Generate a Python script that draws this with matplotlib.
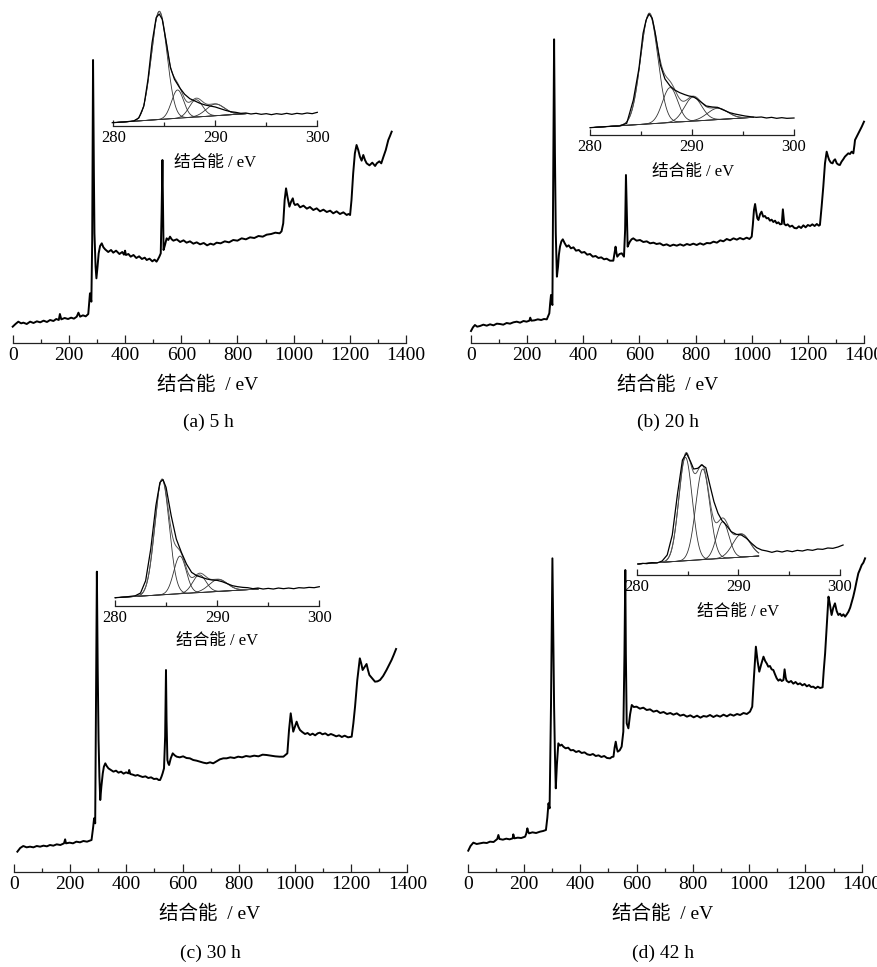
import numpy as np
import matplotlib
matplotlib.use("Agg")
import matplotlib.pyplot as plt
from matplotlib.ticker import MultipleLocator

plt.rcParams['font.family'] = ['Liberation Serif', 'Noto Sans CJK SC']

# ---------------- survey spectra: (binding energy eV, intensity a.u.) ----------------
survey_a = [(0,40),(10,48),(20,55),(30,50),(38,52),(50,48),(62,55),(74,51),(86,56),(98,53),(110,58),(122,54),
            (133,60),(145,57),(155,63),(164,60),(168,78),(173,62),(185,66),(197,63),(208,67),(218,64),(228,70),
            (234,82),(240,70),(250,74),(260,71),(269,78),(272,110),(275,140),(280,115),(283,300),(286,840),
            (289,500),(291,320),(295,220),(298,185),(302,220),(306,260),(311,282),(317,290),(323,278),(329,272),
            (340,264),(350,270),(358,262),(368,268),(380,258),(390,264),(396,256),(400,268),(403,255),(412,258),
            (420,250),(430,255),(440,246),(450,251),(460,243),(470,247),(477,240),(487,244),(497,236),(505,241),
            (512,235),(517,242),(522,250),(527,260),(530,380),(533,540),(535,400),(537,270),(542,285),(548,305),
            (554,300),(560,310),(566,302),(572,298),(584,302),(596,294),(608,299),(619,292),(631,296),(643,289),
            (655,293),(667,287),(680,291),(692,284),(704,289),(715,286),(726,292),(740,290),(755,296),(770,293),
            (785,300),(800,298),(815,305),(830,302),(845,308),(860,306),(875,312),(890,310),(904,316),(920,318),
            (935,322),(950,320),(957,326),(963,350),(968,420),(973,455),(978,430),(985,400),(991,415),(997,425),
            (1001,410),(1005,405),(1014,408),(1023,398),(1035,403),(1047,394),(1058,399),(1070,390),(1082,395),
            (1094,386),(1106,391),(1118,384),(1130,388),(1141,380),(1153,386),(1165,378),(1177,383),(1189,375),
            (1195,378),(1201,375),(1206,420),(1212,500),(1218,560),(1224,585),(1230,570),(1236,550),(1242,538),
            (1248,555),(1254,540),(1260,530),(1270,524),(1280,532),(1290,522),(1296,530),(1305,536),(1312,530),
            (1319,548),(1328,570),(1337,600),(1343,612),(1349,625)]

survey_b = [(0,27),(7,38),(14,45),(22,40),(32,42),(44,46),(56,43),(68,47),(80,44),(92,49),(103,48),(115,46),
            (127,51),(139,49),(151,53),(163,55),(175,52),(187,57),(198,55),(208,58),(211,67),(215,58),(226,59),
            (238,62),(250,60),(260,63),(270,62),(279,80),(282,110),(285,135),(288,112),(290,105),(293,500),
            (296,902),(299,560),(302,320),(306,190),(310,220),(313,255),(317,280),(322,296),(327,302),(334,290),
            (341,280),(348,284),(356,275),(365,278),(374,268),(384,270),(394,262),(404,264),(414,256),(424,258),
            (434,250),(444,252),(454,246),(464,248),(474,242),(483,244),(495,238),(507,238),(511,260),(515,280),
            (518,262),(521,250),(529,258),(537,260),(541,255),(545,250),(549,330),(552,495),(555,380),(558,280),
            (562,288),(566,295),(572,302),(578,305),(590,298),(602,300),(614,294),(626,296),(638,290),(650,292),
            (661,288),(673,290),(685,284),(697,287),(709,282),(721,286),(733,283),(745,287),(757,283),(769,288),
            (780,285),(792,289),(804,285),(816,290),(828,286),(840,291),(852,290),(864,295),(876,292),(888,299),
            (899,296),(911,303),(923,299),(935,305),(947,301),(958,306),(970,302),(982,307),(992,303),(1000,310),
            (1004,345),(1008,390),(1012,408),(1016,385),(1020,365),(1024,360),(1030,378),(1035,385),(1041,370),
            (1047,372),(1053,365),(1059,366),(1065,358),(1071,361),(1077,354),(1083,358),(1089,350),(1095,353),
            (1101,347),(1107,348),(1111,392),(1116,348),(1122,344),(1128,347),(1136,340),(1144,343),(1152,336),
            (1160,335),(1168,341),(1176,336),(1184,344),(1192,338),(1200,345),(1208,342),(1216,347),(1224,342),
            (1232,348),(1239,343),(1243,345),(1249,400),(1255,460),(1261,530),(1267,565),(1272,550),(1276,540),
            (1282,532),(1288,530),(1292,538),(1297,542),(1303,530),(1309,526),(1314,525),(1320,535),(1326,542),
            (1332,550),(1338,555),(1344,560),(1350,558),(1356,565),(1362,560),(1366,585),(1368,600),(1374,610),
            (1380,620),(1386,630),(1392,640),(1400,655)]

survey_c = [(12,55),(22,66),(33,72),(45,68),(57,70),(69,68),(81,72),(93,70),(105,73),(117,71),(128,75),(140,73),
            (152,77),(165,75),(178,80),(182,92),(185,80),(198,82),(210,80),(222,85),(235,83),(247,87),(260,85),
            (270,88),(276,90),(279,110),(282,130),(285,155),(287,155),(289,140),(292,500),(295,895),(298,600),
            (301,390),(304,280),(307,210),(311,250),(316,290),(320,310),(325,320),(330,312),(336,305),(345,300),
            (354,295),(363,298),(372,292),(381,295),(390,289),(399,293),(407,290),(410,300),(414,288),(423,286),
            (432,283),(440,285),(448,282),(458,279),(468,281),(478,276),(488,278),(498,273),(508,274),(515,270),
            (520,270),(525,280),(529,290),(534,305),(538,400),(541,600),(543,450),(546,330),(549,320),(552,315),
            (558,335),(565,350),(572,344),(579,340),(590,338),(602,341),(614,336),(626,335),(638,330),(650,328),
            (662,325),(674,322),(686,320),(698,323),(709,320),(721,326),(733,332),(745,335),(757,335),(770,338),
            (784,336),(798,340),(812,338),(826,342),(840,340),(855,343),(870,341),(885,346),(899,345),(915,343),
            (930,341),(945,340),(959,340),(966,345),(973,350),(979,420),(985,470),(990,440),(994,415),(1000,430),
            (1006,445),(1012,430),(1018,420),(1026,414),(1036,408),(1045,411),(1054,405),(1063,409),(1072,404),
            (1081,410),(1089,412),(1098,407),(1108,410),(1118,404),(1128,408),(1137,405),(1147,401),(1157,404),
            (1167,399),(1177,403),(1189,398),(1202,400),(1208,440),(1214,490),(1222,570),(1231,635),(1236,620),
            (1241,600),(1245,605),(1249,610),(1255,618),(1260,600),(1265,585),(1275,575),(1285,565),(1294,566),
            (1303,570),(1314,582),(1326,600),(1335,615),(1344,630),(1352,646),(1360,663)]

survey_d = [(2,61),(10,75),(20,85),(32,81),(44,83),(56,85),(68,84),(79,88),(92,87),(105,96),(109,108),(113,96),
            (125,94),(137,97),(149,95),(160,98),(162,110),(166,98),(178,100),(190,99),(204,103),(208,112),
            (212,128),(215,118),(218,113),(230,116),(243,114),(257,118),(268,120),(278,123),(283,160),(287,203),
            (291,188),(296,500),(301,938),(304,700),(307,493),(310,350),(313,248),(317,320),(322,383),(328,376),
            (334,379),(340,373),(348,368),(357,370),(366,362),(375,363),(385,357),(395,360),(405,354),(415,356),
            (425,350),(435,348),(445,351),(455,345),(465,347),(475,342),(485,345),(495,339),(506,338),(512,342),
            (518,343),(522,370),(526,388),(530,368),(533,358),(540,362),(547,373),(550,395),(553,418),(557,650),
            (560,903),(562,650),(565,443),(568,435),(571,428),(577,470),(583,498),(590,492),(600,493),(612,487),
            (624,490),(636,483),(648,485),(660,478),(672,481),(684,474),(696,477),(708,471),(720,474),(731,469),
            (743,473),(755,466),(767,469),(779,463),(791,467),(803,461),(815,466),(827,460),(838,465),(849,463),
            (861,468),(873,462),(885,467),(897,463),(909,469),(921,464),(933,470),(945,466),(957,471),(968,468),
            (980,474),(992,471),(1003,478),(1011,493),(1017,580),(1024,673),(1030,630),(1036,598),(1043,620),
            (1051,643),(1057,630),(1063,622),(1068,613),(1074,615),(1080,605),(1086,603),(1092,590),(1098,578),
            (1104,571),(1110,575),(1116,570),(1122,573),(1126,605),(1130,580),(1133,571),(1141,566),(1149,570),
            (1157,562),(1165,567),(1173,560),(1181,563),(1189,557),(1197,561),(1205,554),(1213,558),(1220,552),
            (1228,553),(1236,548),(1244,553),(1252,549),(1261,551),(1265,600),(1270,653),(1276,740),(1282,823),
            (1287,800),(1293,768),(1299,790),(1305,803),(1311,780),(1317,768),(1323,772),(1329,765),(1335,770),
            (1341,763),(1347,770),(1353,778),(1359,790),(1364,805),(1370,823),(1376,845),(1382,870),(1388,893),
            (1394,905),(1400,918),(1406,925),(1412,938)]

# ---------------- C1s insets: measured curve (eV, a.u.) ----------------
c1s_a = [(279.9,10),(281.0,12),(282.0,15),(282.5,24),(283.0,60),(283.4,140),(283.8,250),(284.2,325),(284.5,336),
         (284.8,320),(285.2,250),(285.6,175),(286.0,140),(286.5,115),(287.0,95),(287.5,82),(288.0,75),(288.5,68),
         (289.0,63),(289.5,60),(290.0,57),(290.5,52),(291.0,47),(291.5,43),(292.0,41),(292.5,38),(293.0,39),
         (293.5,36),(294.0,38),(294.5,35),(295.0,37),(295.5,34),(296.0,37),(296.5,35),(297.0,38),(297.5,35),
         (298.0,38),(298.5,36),(299.0,39),(299.5,37),(300.0,41)]
c1s_b = [(280.0,22),(281.0,24),(282.0,26),(282.9,27),(283.6,35),(284.25,105),(284.8,200),(285.2,305),(285.5,345),
         (285.8,363),(286.1,350),(286.4,305),(286.9,210),(287.35,168),(287.85,147),(288.3,135),(288.8,127),
         (289.3,121),(289.7,117),(290.1,115),(290.5,108),(291.0,96),(291.4,87),(292.0,84),(292.5,83),(293.0,76),
         (293.7,67),(294.2,63),(294.7,60),(295.2,57),(295.7,55),(296.3,53),(296.8,54),(297.3,51),(297.8,53),
         (298.3,50),(298.8,52),(299.3,50),(300.0,51)]
c1s_c = [(280.0,24),(281.0,26),(282.0,30),(282.5,38),(283.0,75),(283.5,170),(284.0,300),(284.4,370),(284.7,378),
         (285.0,355),(285.5,270),(286.0,200),(286.5,160),(287.0,125),(287.5,100),(288.0,90),(288.5,85),(289.0,80),
         (289.5,77),(290.0,76),(290.5,72),(291.0,66),(291.5,60),(292.0,57),(292.5,55),(293.0,54),(293.5,51),
         (294.0,53),(294.5,50),(295.0,52),(295.5,50),(296.0,53),(296.5,51),(297.0,53),(297.5,51),(298.0,54),
         (298.5,53),(299.0,55),(299.5,54),(300.0,57)]
c1s_d = [(280.2,33),(280.6,35),(281.0,34),(281.5,37),(282.0,36),(282.5,42),(283.0,60),(283.5,120),(284.0,240),
         (284.5,345),(284.9,365),(285.3,340),(285.6,318),(286.0,320),(286.4,330),(286.8,322),(287.2,270),
         (287.6,220),(288.0,185),(288.4,163),(288.8,150),(289.3,130),(289.8,122),(290.3,120),(290.8,110),
         (291.3,95),(291.8,82),(292.3,75),(292.8,72),(293.3,68),(293.8,72),(294.3,69),(294.8,73),(295.3,70),
         (295.8,74),(296.3,72),(296.8,76),(297.3,74),(297.8,78),(298.3,77),(298.8,81),(299.3,80),(299.8,84),
         (300.3,90)]

# fitted background (start, end) and components (center eV, height a.u., FWHM eV)
bg_a = [(280.0, 10), (293.0, 37)]
peaks_a = {"center": [284.5, 286.3, 288.1, 290.0], "height": [324, 85, 52, 35], "fwhm": [1.8, 1.4, 1.55, 2.1]}
bg_b = [(280.0, 22), (296.0, 53)]
peaks_b = {"center": [285.8, 287.85, 290.1, 292.5], "height": [330, 105, 72, 34], "fwhm": [1.98, 1.75, 2.0, 2.35]}
bg_c = [(280.0, 24), (294.0, 50)]
peaks_c = {"center": [284.6, 286.36, 288.25, 290.1], "height": [346, 113, 53, 36], "fwhm": [1.66, 1.42, 1.53, 2.1]}
bg_d = [(280.0, 33), (292.0, 57)]
peaks_d = {"center": [284.8, 286.5, 288.46, 290.3], "height": [310, 272, 110, 69], "fwhm": [1.55, 1.62, 1.45, 2.0]}

captions = ["(a) 5 h", "(b) 20 h", "(c) 30 h", "(d) 42 h"]
xlabel = "结合能  / eV"
inset_xlabel = "结合能 / eV"

# ---------------- layout ----------------
W, H = 878, 967
fig = plt.figure(figsize=(W / 100, H / 100), dpi=100)


def add_ax(l, t, r, b):
    return fig.add_axes([l / W, 1 - b / H, (r - l) / W, (b - t) / H])


def style_axis(ax, major, minor, fs, maj_len, min_len):
    for s in ("left", "right", "top"):
        ax.spines[s].set_visible(False)
    ax.spines["bottom"].set_linewidth(0.9)
    ax.spines["bottom"].set_color("#222222")
    ax.set_yticks([])
    ax.xaxis.set_major_locator(MultipleLocator(major))
    ax.xaxis.set_minor_locator(MultipleLocator(minor))
    ax.tick_params(axis="x", which="major", direction="in", length=maj_len, width=0.9,
                   labelsize=fs, pad=3, color="#222222")
    ax.tick_params(axis="x", which="minor", direction="in", length=min_len, width=0.9,
                   color="#222222")
    ax.patch.set_alpha(0)


main_specs = [
    (survey_a, (12.7, 0, 406, 343), (-9, 1020), (208, 385), (208, 422)),
    (survey_b, (471, 0, 864, 343), (-9, 1020), (668, 385), (668, 422)),
    (survey_c, (14, 440, 407.3, 872), (-6, 1290), (210, 914), (210, 953)),
    (survey_d, (467.7, 440, 861.7, 872), (-3, 1293), (663, 914), (663, 953)),
]

for i, (pairs, box, ylim, lab_xy, cap_xy) in enumerate(main_specs):
    xs, ys = zip(*pairs)
    ax = add_ax(*box)
    ax.plot(xs, ys, color="black", lw=1.4, clip_on=False, solid_joinstyle="round")
    ax.set_xlim(0, 1400)
    ax.set_ylim(*ylim)
    style_axis(ax, 200, 100, 14, 6, 3)
    fig.text(lab_xy[0] / W, 1 - lab_xy[1] / H, xlabel, ha="center", va="center", fontsize=14)
    fig.text(cap_xy[0] / W, 1 - cap_xy[1] / H, captions[i], ha="center", va="center", fontsize=14)

inset_specs = [
    (c1s_a, bg_a, peaks_a, (113.3, 0, 317.3, 126), 378, (215, 163)),
    (c1s_b, bg_b, peaks_b, (590, 0, 794, 135), 405, (693, 172)),
    (c1s_c, bg_c, peaks_c, (115, 440, 319.3, 605.7), 497, (217, 641)),
    (c1s_d, bg_d, peaks_d, (636.7, 440, 840, 575), 405, (738, 612)),
]

for pairs, bg, pk, box, ytop, lab_xy in inset_specs:
    xs, ys = zip(*pairs)
    ax = add_ax(*box)
    (x0, y0), (x1, y1) = bg
    xx = np.linspace(x0, x1, 400)
    base = y0 + (y1 - y0) * (xx - x0) / (x1 - x0)
    total = base.copy()
    for c, h, w in zip(pk["center"], pk["height"], pk["fwhm"]):
        sig = w / 2.3548
        comp = h * np.exp(-0.5 * ((xx - c) / sig) ** 2)
        total += comp
        ax.plot(xx, base + comp, color="#333333", lw=0.6)
    ax.plot(xx, base, color="#333333", lw=0.6)
    ax.plot(xx, total, color="#555555", lw=0.7)
    ax.plot(xs, ys, color="black", lw=0.9, clip_on=False)
    ax.set_xlim(280, 300)
    ax.set_ylim(0, ytop)
    ax.set_xticks([280, 290, 300])
    style_axis(ax, 10, 5, 12, 4, 3)
    fig.text(lab_xy[0] / W, 1 - lab_xy[1] / H, inset_xlabel, ha="center", va="center", fontsize=12)

fig.savefig("out.png", dpi=100, facecolor="white")
